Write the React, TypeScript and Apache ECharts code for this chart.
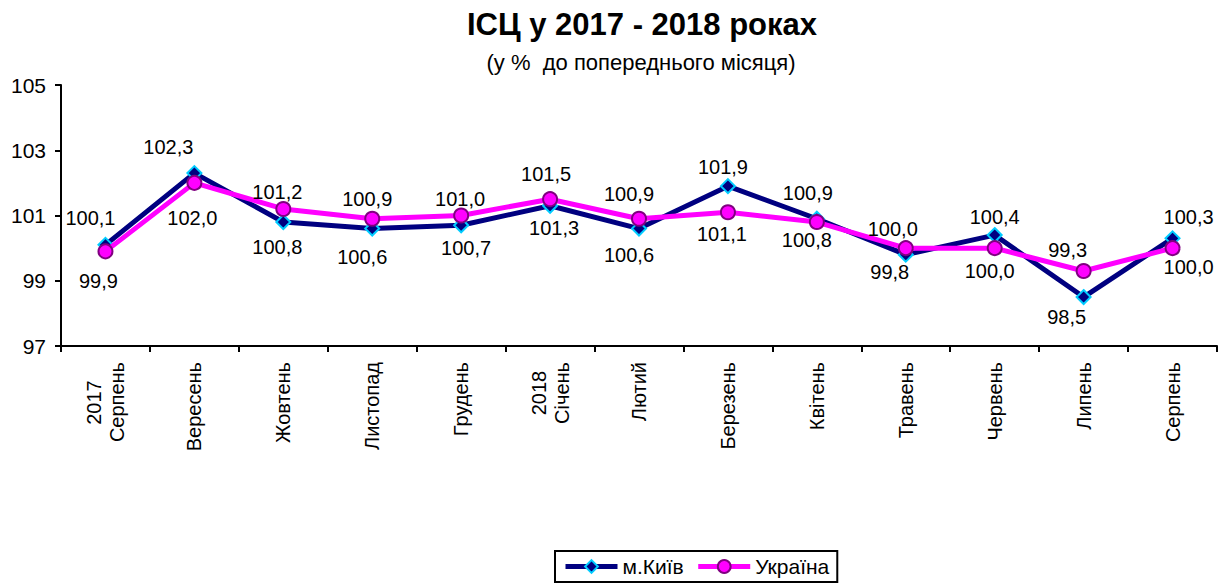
import React, { useEffect, useRef } from "react";
import * as echarts from "echarts";

const categories = [
  "2017\nСерпень",
  "Вересень",
  "Жовтень",
  "Листопад",
  "Грудень",
  "2018\nСічень",
  "Лютий",
  "Березень",
  "Квітень",
  "Травень",
  "Червень",
  "Липень",
  "Серпень",
];

const kyivValues = [100.1, 102.3, 100.8, 100.6, 100.7, 101.3, 100.6, 101.9, 100.9, 99.8, 100.4, 98.5, 100.3];
const ukraineValues = [99.9, 102.0, 101.2, 100.9, 101.0, 101.5, 100.9, 101.1, 100.8, 100.0, 100.0, 99.3, 100.0];

const yTicks = { min: 97, max: 105, interval: 2 };

// label offsets (pixels relative to the point), style only
const kyivLabelOffsets = [
  [-15, -27], [-26, -26], [-6, 25], [-10, 28], [5, 23], [4, 22], [-10, 26],
  [-5, -19], [-9, -26], [-16, 17], [0, -18], [-17, 20], [16, -21],
];
const ukraineLabelOffsets = [
  [-7, 30], [-2, 35], [-6, -17], [-5, -20], [-1, -17], [-4, -25], [-10, -25],
  [-6, 22], [-10, 18], [-13, -19], [-5, 23], [-16, -21], [16, 19],
];

const fmt = (v: number) => v.toFixed(1).replace(".", ",");
const FONT = "Arial, 'Liberation Sans', sans-serif";
const LABEL_SIZE = 20;

let measureCtx: CanvasRenderingContext2D | null = null;
const measure = (t: string) => {
  if (!measureCtx) measureCtx = document.createElement("canvas").getContext("2d");
  if (!measureCtx) return t.length * 11;
  measureCtx.font = `${LABEL_SIZE}px Arial, 'Liberation Sans', sans-serif`;
  return measureCtx.measureText(t).width;
};

export default function App() {
  const ref = useRef<HTMLDivElement>(null);
  useEffect(() => {
    if (!ref.current) return;
    const chart = echarts.init(ref.current, null, { renderer: "svg" });
    const mk = (vals: number[], offs: number[][]) =>
      vals.map((v, i) => ({
        value: v,
        label: { offset: offs[i] },
      }));
    const rich: any = {
      b: { fontFamily: FONT, fontSize: LABEL_SIZE, color: "#000", lineHeight: 23 },
    };
    const formatterMap: Record<string, string> = {};
    categories.forEach((c, i) => {
      const parts = c.split("\n");
      if (parts.length === 2) {
        const key = "a" + i;
        rich[key] = {
          fontFamily: FONT,
          fontSize: LABEL_SIZE,
          color: "#000",
          lineHeight: 23,
          width: Math.ceil(measure(parts[1])),
          align: "center",
        };
        formatterMap[c] = `{${key}|${parts[0]}}\n{b|${parts[1]}}`;
      }
    });
    chart.setOption({
      animation: false,
      backgroundColor: "#ffffff",
      title: [
        {
          text: "ІСЦ у 2017 - 2018 роках",
          left: 637,
          top: 4,
          textAlign: "center",
          textStyle: { fontFamily: FONT, fontSize: 31, fontWeight: "bold", color: "#000" },
        },
        {
          text: "(у %  до попереднього місяця)",
          left: 636,
          top: 46,
          textAlign: "center",
          textStyle: { fontFamily: FONT, fontSize: 22, fontWeight: "normal", color: "#000" },
        },
      ],
      legend: {
        left: 555,
        top: 551,
        padding: [5, 8, 5, 8],
        borderColor: "#000",
        borderWidth: 2,
        borderRadius: 0,
        itemWidth: 52,
        itemHeight: 16,
        itemGap: 12,
        lineStyle: { width: 5 },
        textStyle: { fontFamily: FONT, fontSize: 21, color: "#000" },
        data: ["м.Київ", "Україна"],
      },
      grid: { left: 61, right: 5, top: 85, bottom: 240, containLabel: false },
      xAxis: {
        type: "category",
        data: categories,
        boundaryGap: true,
        axisLine: { lineStyle: { color: "#000", width: 2 } },
        axisTick: { show: true, length: 6, lineStyle: { color: "#000", width: 2 }, alignWithLabel: false },
        axisLabel: {
          rotate: 90,
          margin: 16,
          interval: 0,
          fontFamily: FONT,
          fontSize: LABEL_SIZE,
          color: "#000",
          lineHeight: 23,
          formatter: (v: string) => formatterMap[v] || v,
          rich,
        },
      },
      yAxis: {
        type: "value",
        min: yTicks.min,
        max: yTicks.max,
        interval: yTicks.interval,
        axisLine: { show: true, lineStyle: { color: "#000", width: 2 } },
        axisTick: { show: true, length: 6, lineStyle: { color: "#000", width: 2 } },
        splitLine: { show: false },
        axisLabel: { fontFamily: FONT, fontSize: 21, color: "#000", margin: 15 },
      },
      series: [
        {
          name: "м.Київ",
          type: "line",
          data: mk(kyivValues, kyivLabelOffsets),
          symbol: "diamond",
          symbolSize: 14,
          z: 2,
          lineStyle: { color: "#000080", width: 5 },
          itemStyle: { color: "#000080", borderColor: "#00CCFF", borderWidth: 2 },
          label: {
            show: true,
            position: "inside",
            formatter: (p: any) => fmt(p.value),
            fontFamily: FONT,
            fontSize: LABEL_SIZE,
            color: "#000",
          },
        },
        {
          name: "Україна",
          type: "line",
          data: mk(ukraineValues, ukraineLabelOffsets),
          symbol: "circle",
          symbolSize: 14,
          z: 3,
          lineStyle: { color: "#FF00FF", width: 5 },
          itemStyle: { color: "#FF00FF", borderColor: "#800080", borderWidth: 2 },
          label: {
            show: true,
            position: "inside",
            formatter: (p: any) => fmt(p.value),
            fontFamily: FONT,
            fontSize: LABEL_SIZE,
            color: "#000",
          },
        },
      ],
    });
    return () => chart.dispose();
  }, []);
  return (
    <div
      ref={ref}
      style={{ position: "fixed", left: 0, top: 0, width: 1222, height: 586, background: "#fff" }}
    />
  );
}
